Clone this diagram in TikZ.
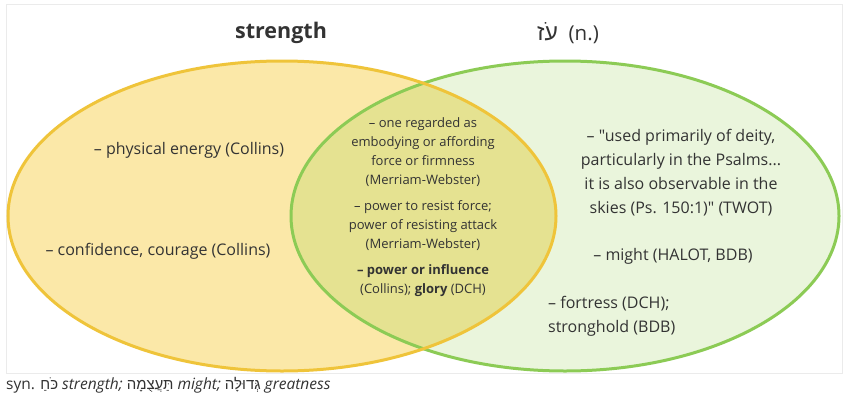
\documentclass[tikz,border=0pt]{standalone}
\usepackage{fontspec}
\setmainfont{Open Sans}[Ligatures=TeXOff]
\newfontfamily\hebfont[Script=Hebrew]{Liberation Sans}
\TeXXeTstate=1
\definecolor{txt}{HTML}{333333}
\definecolor{yfill}{HTML}{FBE8A8}
\definecolor{yline}{HTML}{EFC43A}
\definecolor{gfill}{HTML}{EAF5DC}
\definecolor{gline}{HTML}{8CCB55}
\definecolor{ofill}{HTML}{E5E291}
\definecolor{frame}{HTML}{EBEBEB}
\tikzset{
  lbl/.style={text=txt, inner sep=0pt, font=\fontsize{16}{24}\selectfont},
  midlbl/.style={text=txt, inner sep=0pt, align=center, font=\fontsize{13}{19}\selectfont},
  ttl/.style={text=txt, inner sep=0pt},
}
\newcommand\hebw[1]{{\hebfont\fontsize{15}{24}\selectfont\beginR #1\endR}}
\begin{document}
\begin{tikzpicture}[x=1pt,y=-1pt]
\useasboundingbox (0,0) rectangle (850,404);
\fill[white] (0,0) rectangle (850,404);
\draw[frame, line width=1pt] (6,5) rectangle (842,373);
% fills
\fill[yfill] (282,216) ellipse [x radius=274, y radius=155];
\fill[gfill] (565,216) ellipse [x radius=274, y radius=155];
\begin{scope}
  \clip (282,216) ellipse [x radius=274, y radius=155];
  \fill[ofill] (565,216) ellipse [x radius=274, y radius=155];
\end{scope}
\draw[gline, line width=3pt] (565,216) ellipse [x radius=274, y radius=155];
\draw[yline, line width=3pt] (282,216) ellipse [x radius=274, y radius=155];
% titles
\node[ttl, font=\fontsize{21.5}{24}\selectfont\bfseries] (tstr) at (281,33) {strength};
\node[ttl, font=\fontsize{20.5}{24}\selectfont] (toz) at (568,33) {{\hebfont\fontsize{23}{24}\selectfont\beginR עֹז\endR}\ \ (n.)};
% left
\node[lbl] (phys) at (189,150) {– physical energy (Collins)};
\node[lbl] (conf) at (158,251) {– confidence, courage (Collins)};
% middle
\node[midlbl] (m1) at (423,152.5) {– one regarded as\\embodying or affording\\force or firmness\\(Merriam-Webster)};
\node[midlbl] (m2) at (423,226) {– power to resist force;\\power of resisting attack\\(Merriam-Webster)};
\node[midlbl] (m3) at (423,280.5) {\textbf{– power or influence}\\(Collins); \textbf{glory} (DCH)};
% right
\node[lbl, align=center] (r1) at (681,173) {– "used primarily of deity,\\particularly in the Psalms...\\it is also observable in the\\skies (Ps. 150:1)" (TWOT)};
\node[lbl] (r2) at (673,256) {– might (HALOT, BDB)};
\node[lbl, align=left, anchor=west] (r3) at (548,316) {– fortress (DCH);\\stronghold (BDB)};
% bottom
\node[lbl, anchor=west, font=\fontsize{15.5}{24}\selectfont] (syn) at (6,385) {syn. \hebw{כֹּחַ} \textit{strength;} \hebw{תַּעֲצֻמָה} \textit{might;} \hebw{גְּדוּלָּה} \textit{greatness}};
\end{tikzpicture}
\end{document}
